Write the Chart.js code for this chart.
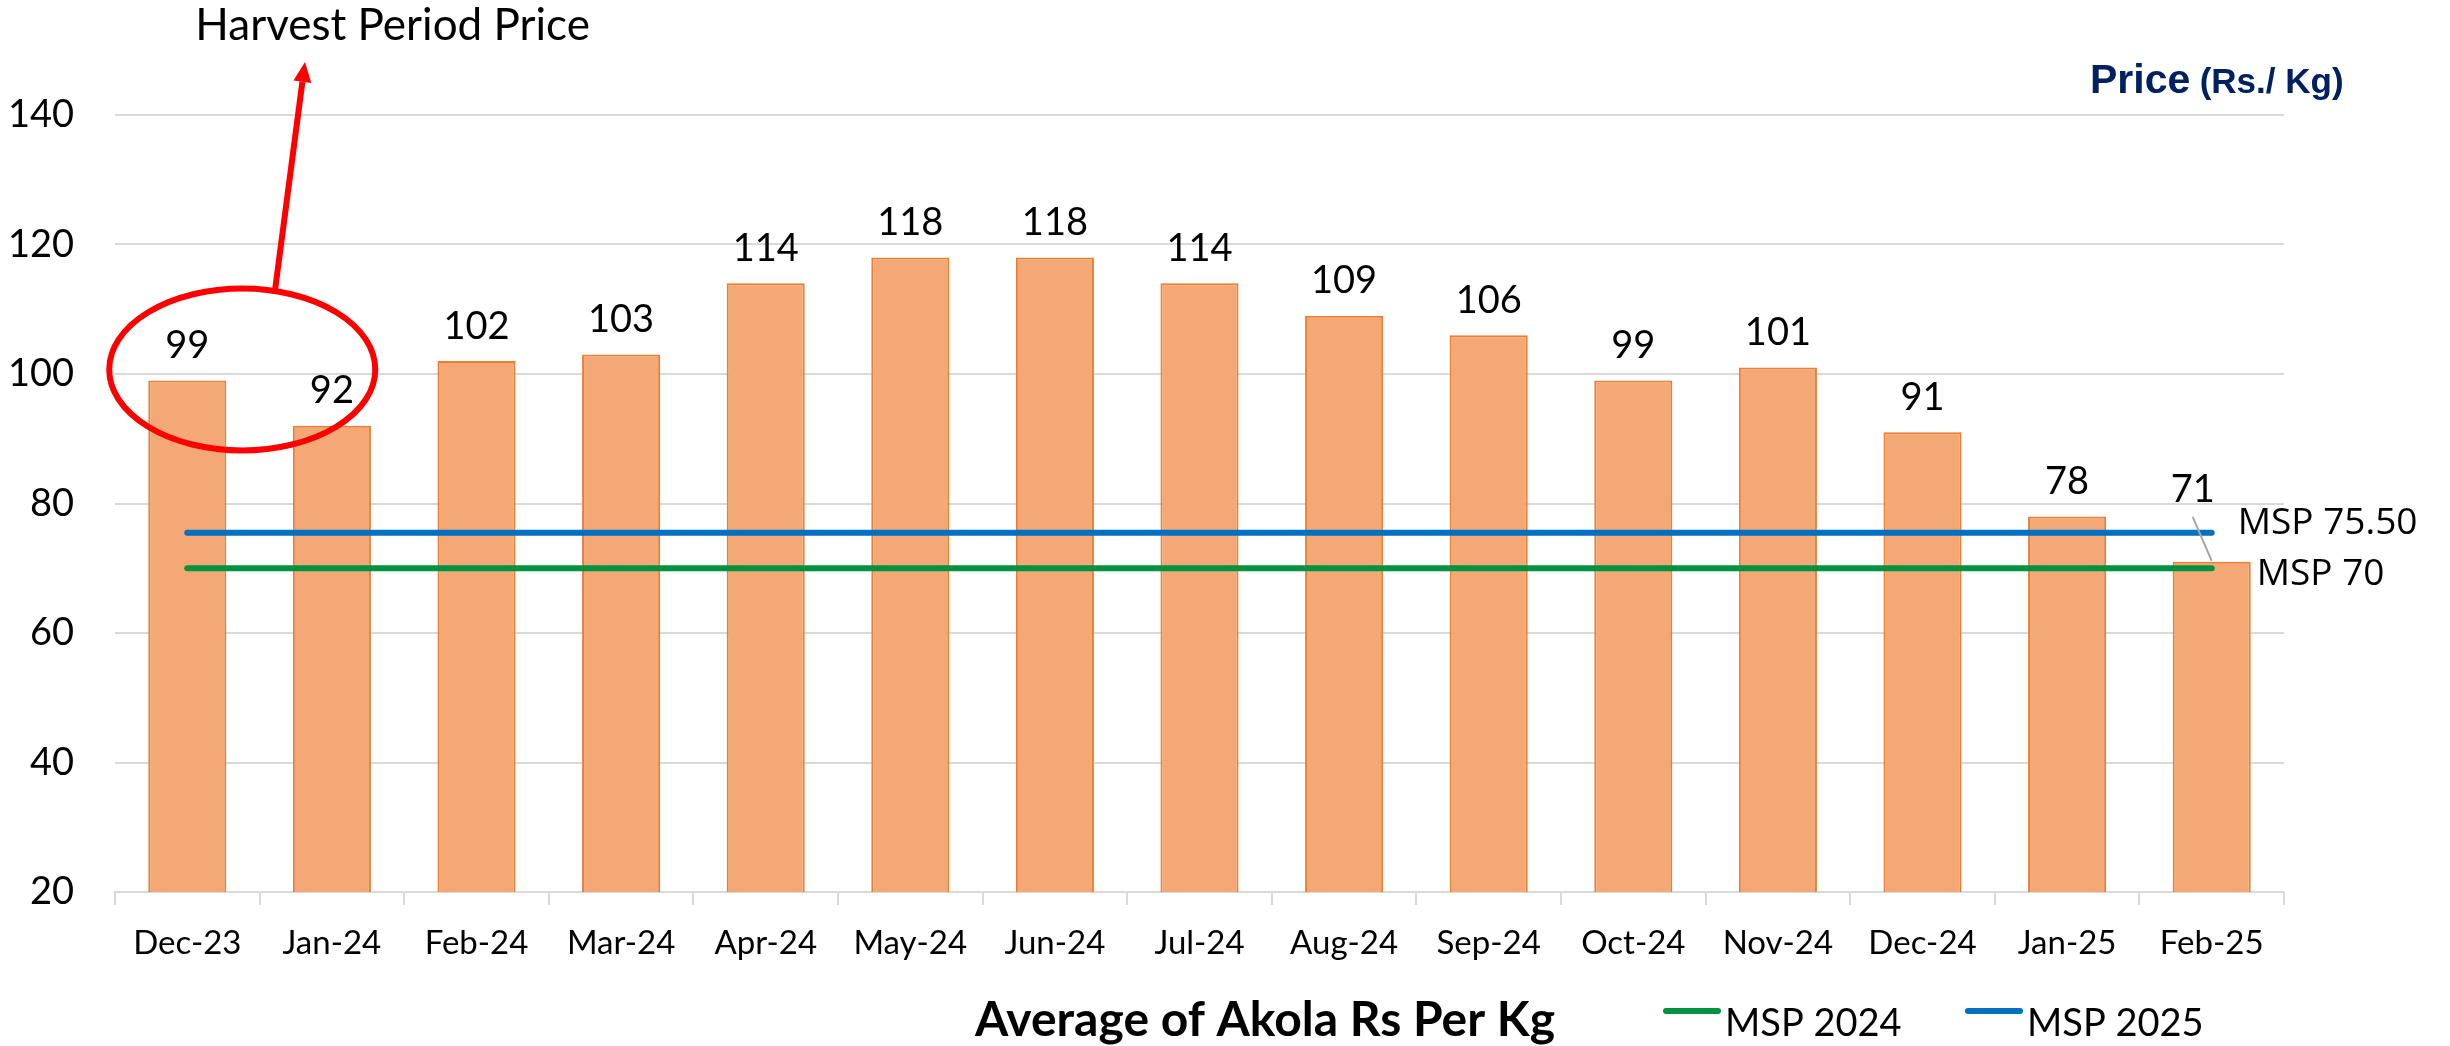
<!DOCTYPE html>
<html><head><meta charset="utf-8">
<script src="https://cdn.jsdelivr.net/npm/chart.js@4.4.1/dist/chart.umd.min.js"></script>
<style>html,body{margin:0;padding:0;background:#fff;}canvas{display:block;}</style>
</head><body>
<canvas id="c" width="2450" height="1046"></canvas>
<script>
// ---------- data ----------
const categories = ['Dec-23','Jan-24','Feb-24','Mar-24','Apr-24','May-24','Jun-24','Jul-24','Aug-24','Sep-24','Oct-24','Nov-24','Dec-24','Jan-25','Feb-25'];
const akolaPrice = [99, 92, 102, 103, 114, 118, 118, 114, 109, 106, 99, 101, 91, 78, 71];
const msp2024 = [70, 70, 70, 70, 70, 70, 70, 70, 70, 70, 70, 70, 70, 70, 70];
const msp2025 = [75.5, 75.5, 75.5, 75.5, 75.5, 75.5, 75.5, 75.5, 75.5, 75.5, 75.5, 75.5, 75.5, 75.5, 75.5];
const yTicks = [20, 40, 60, 80, 100, 120, 140];
const seriesNames = ['MSP 2024', 'MSP 2025', 'Average of Akola Rs Per Kg'];
const lineEndLabels = ['MSP 70', 'MSP 75.50'];
const unitLabel = ['Price', '(Rs./ Kg)'];
const harvestLabel = 'Harvest Period Price';

// annotation anchors in data space (category index, value)
const harvestEllipse = { cx: 0.38, cy: 100.7, rx: 0.92, ry: 12.5 };
const harvestArrow = { x0: 0.607, y0: 113, x1: 0.814, y1: 148.2 };
const harvestText = { x: 1.42, y: 151.6 };

const GREEN = '#00923F', BLUE = '#0070C0';

const annotPlugin = {
  id: 'annot',
  afterDatasetsDraw(chart) {
    const ctx = chart.ctx, xs = chart.scales.x, ys = chart.scales.y;
    ctx.save();
    // bar value labels
    const barMeta = chart.getDatasetMeta(2);
    ctx.font = '38px Lato';
    ctx.fillStyle = '#000';
    ctx.textAlign = 'center';
    ctx.textBaseline = 'alphabetic';
    const n = barMeta.data.length;
    barMeta.data.forEach((el, i) => {
      const txt = String(akolaPrice[i]);
      if (i === n - 1) {
        const lx = el.x - 19, ly = el.y - 60;
        ctx.fillText(txt, lx, ly);
        ctx.strokeStyle = '#A6A6A6';
        ctx.lineWidth = 2;
        ctx.beginPath();
        ctx.moveTo(lx, ly + 15);
        ctx.lineTo(el.x, el.y - 1);
        ctx.stroke();
      } else {
        ctx.fillText(txt, el.x, el.y - 22.5);
      }
    });
    // line end labels
    ctx.font = '37px "Open Sans"';
    ctx.textAlign = 'left';
    ctx.textBaseline = 'middle';
    const offs = [[45, 6], [26, -9]];
    [0, 1].forEach(di => {
      const m = chart.getDatasetMeta(di);
      const p = m.data[m.data.length - 1];
      ctx.fillText(lineEndLabels[di], p.x + offs[di][0], p.y + offs[di][1]);
    });
    // harvest ellipse
    const cx = xs.getPixelForValue(harvestEllipse.cx);
    const cy = ys.getPixelForValue(harvestEllipse.cy);
    const rx = xs.getPixelForValue(harvestEllipse.cx + harvestEllipse.rx) - cx;
    const ry = cy - ys.getPixelForValue(harvestEllipse.cy + harvestEllipse.ry);
    ctx.strokeStyle = '#FF0000';
    ctx.lineWidth = 6;
    ctx.beginPath();
    ctx.ellipse(cx, cy, rx, ry, 0, 0, Math.PI * 2);
    ctx.stroke();
    // arrow
    const ax0 = xs.getPixelForValue(harvestArrow.x0), ay0 = ys.getPixelForValue(harvestArrow.y0);
    const ax1 = xs.getPixelForValue(harvestArrow.x1), ay1 = ys.getPixelForValue(harvestArrow.y1);
    const ang = Math.atan2(ay1 - ay0, ax1 - ax0);
    const hl = 20, hw = 9;
    const bx = ax1 - hl * Math.cos(ang), by = ay1 - hl * Math.sin(ang);
    ctx.lineWidth = 6;
    ctx.beginPath();
    ctx.moveTo(ax0, ay0);
    ctx.lineTo(bx, by);
    ctx.stroke();
    ctx.fillStyle = '#FF0000';
    ctx.beginPath();
    ctx.moveTo(ax1, ay1);
    ctx.lineTo(bx + hw * Math.sin(ang), by - hw * Math.cos(ang));
    ctx.lineTo(bx - hw * Math.sin(ang), by + hw * Math.cos(ang));
    ctx.closePath();
    ctx.fill();
    // harvest text
    ctx.fillStyle = '#000';
    ctx.font = '44px Lato';
    ctx.textAlign = 'center';
    ctx.textBaseline = 'alphabetic';
    ctx.fillText(harvestLabel, xs.getPixelForValue(harvestText.x), ys.getPixelForValue(harvestText.y));
    ctx.restore();
  },
  afterDraw(chart) {
    const ctx = chart.ctx;
    ctx.save();
    // unit label top right
    ctx.fillStyle = '#002060';
    ctx.textBaseline = 'alphabetic';
    ctx.textAlign = 'left';
    ctx.font = 'bold 41px "Liberation Sans"';
    const px = 2090, py = 93;
    ctx.fillText(unitLabel[0], px, py);
    const w0 = ctx.measureText(unitLabel[0] + ' ').width;
    ctx.font = 'bold 35px "Liberation Sans"';
    ctx.fillText(unitLabel[1], px + w0 - 2, py);
    // bottom series title
    ctx.fillStyle = '#000';
    ctx.font = 'bold 48px Lato';
    ctx.fillText(seriesNames[2], 975, 1036);
    // legend
    const items = [
      { x: 1663, ds: 0 },
      { x: 1965, ds: 1 }
    ];
    items.forEach(it => {
      const ds = chart.data.datasets[it.ds];
      ctx.strokeStyle = ds.borderColor;
      ctx.lineWidth = 6;
      ctx.lineCap = 'round';
      ctx.beginPath();
      ctx.moveTo(it.x + 3, 1011);
      ctx.lineTo(it.x + 55, 1011);
      ctx.stroke();
      ctx.fillStyle = '#000';
      ctx.font = '38px Lato';
      ctx.fillText(ds.label, it.x + 62, 1036);
    });
    ctx.restore();
  }
};

function build() {
  Chart.defaults.font.family = 'Lato';
  Chart.defaults.color = '#000';
  new Chart(document.getElementById('c'), {
    data: {
      labels: categories,
      datasets: [
        { type: 'line', label: seriesNames[0], data: msp2024, borderColor: GREEN, borderWidth: 6, pointRadius: 0, borderCapStyle: 'round', tension: 0 },
        { type: 'line', label: seriesNames[1], data: msp2025, borderColor: BLUE, borderWidth: 6, pointRadius: 0, borderCapStyle: 'round', tension: 0 },
        { type: 'bar', label: seriesNames[2], data: akolaPrice, backgroundColor: '#F3A876', borderColor: '#ED7D31', borderWidth: 2, categoryPercentage: 1, barPercentage: 0.54 }
      ]
    },
    options: {
      responsive: false,
      devicePixelRatio: 1,
      animation: false,
      layout: { padding: { left: 0, right: 166, top: 115, bottom: 0 } },
      plugins: { legend: { display: false }, tooltip: { enabled: false }, title: { display: false } },
      scales: {
        x: {
          type: 'category',
          offset: true,
          grid: { display: true, drawOnChartArea: false, drawTicks: true, tickLength: 13, color: '#D9D9D9', lineWidth: 2, offset: true },
          border: { display: true, color: '#D9D9D9', width: 2 },
          ticks: { font: { size: 33, family: 'Lato' }, color: '#000', padding: 19, maxRotation: 0, autoSkip: false },
          afterFit(s) { s.height = 154; }
        },
        y: {
          min: 20, max: 140,
          afterBuildTicks(s) { s.ticks = yTicks.map(v => ({ value: v })); },
          grid: { color: '#D9D9D9', lineWidth: 2, drawTicks: false },
          border: { display: false },
          ticks: { font: { size: 38, family: 'Lato' }, color: '#000', padding: 41 },
          afterFit(s) { s.width = 115; }
        }
      }
    },
    plugins: [annotPlugin]
  });
}

Promise.all([
  document.fonts.load('36px Lato'),
  document.fonts.load('bold 42px Lato'),
  document.fonts.load('37px "Open Sans"'),
  document.fonts.load('bold 40px "Liberation Sans"')
]).then(build, build);
</script>
</body></html>
